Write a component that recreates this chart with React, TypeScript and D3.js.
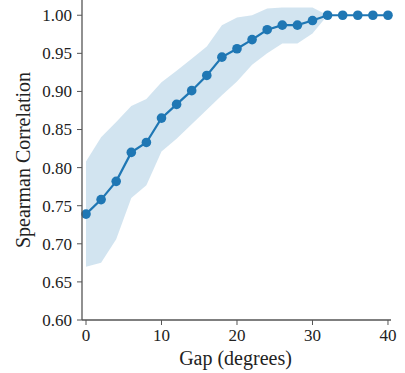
import React from "react";
import * as d3 from "d3";

const gaps = [0, 2, 4, 6, 8, 10, 12, 14, 16, 18, 20, 22, 24, 26, 28, 30, 32, 34, 36, 38, 40];
const meanCorr = [0.739, 0.758, 0.782, 0.820, 0.833, 0.865, 0.883, 0.901, 0.921, 0.945, 0.956, 0.968, 0.981, 0.987, 0.987, 0.993, 1.0, 1.0, 1.0, 1.0, 1.0];
const upperCorr = [0.808, 0.840, 0.860, 0.881, 0.890, 0.912, 0.927, 0.943, 0.959, 0.987, 0.997, 1.0, 1.009, 1.010, 1.010, 1.010, 1.0, 1.0, 1.0, 1.0, 1.0];
const lowerCorr = [0.670, 0.675, 0.706, 0.760, 0.777, 0.821, 0.838, 0.857, 0.876, 0.895, 0.913, 0.935, 0.950, 0.963, 0.963, 0.976, 1.0, 1.0, 1.0, 1.0, 1.0];
const xTicks = [0, 10, 20, 30, 40];
const yTicks = [0.6, 0.65, 0.7, 0.75, 0.8, 0.85, 0.9, 0.95, 1.0];

const W = 405, H = 373;
const left = 82, right = 391, top = 0, bottom = 320;
const color = "#1f77b4";
const axisColor = "#555";
const font = "'Liberation Serif', 'DejaVu Serif', serif";

export default function App() {
  const x = d3.scaleLinear().domain([-0.53, 40.4]).range([left, right]);
  const y = d3.scaleLinear().domain([0.6, 1.02]).range([bottom, top]);
  const pts = gaps.map((g, i) => ({ g, m: meanCorr[i], lo: lowerCorr[i], hi: upperCorr[i] }));
  const area = d3.area<any>().x(d => x(d.g)).y0(d => y(d.lo)).y1(d => y(d.hi));
  const line = d3.line<any>().x(d => x(d.g)).y(d => y(d.m));

  return (
    <svg width={W} height={H} style={{ position: "absolute", left: 0, top: 0, background: "#fff" }} fontFamily={font}>
      <path d={area(pts) || ""} fill={color} fillOpacity={0.2} stroke="none" />
      <path d={line(pts) || ""} fill="none" stroke={color} strokeWidth={2.2} />
      {pts.map((p, i) => (
        <circle key={i} cx={x(p.g)} cy={y(p.m)} r={4.8} fill={color} />
      ))}
      <line x1={left} x2={left} y1={top} y2={bottom} stroke={axisColor} strokeWidth={1.3} />
      <line x1={left} x2={right} y1={bottom} y2={bottom} stroke={axisColor} strokeWidth={1.3} />
      {yTicks.map((t, i) => (
        <g key={i}>
          <line x1={left - 5} x2={left} y1={y(t)} y2={y(t)} stroke={axisColor} strokeWidth={1} />
          <text x={left - 10} y={y(t)} dy="0.35em" textAnchor="end" fontSize={17} fill="#222">{t.toFixed(2)}</text>
        </g>
      ))}
      {xTicks.map((t, i) => (
        <g key={i}>
          <line x1={x(t)} x2={x(t)} y1={bottom} y2={bottom + 5} stroke={axisColor} strokeWidth={1} />
          <text x={x(t)} y={bottom + 21} textAnchor="middle" fontSize={17} fill="#222">{t}</text>
        </g>
      ))}
      <text x={(left + right) / 2 - 1} y={365} textAnchor="middle" fontSize={20} fill="#222">Gap (degrees)</text>
      <text transform={`translate(30, ${(top + bottom) / 2}) rotate(-90)`} textAnchor="middle" fontSize={20} fill="#222">Spearman Correlation</text>
    </svg>
  );
}
